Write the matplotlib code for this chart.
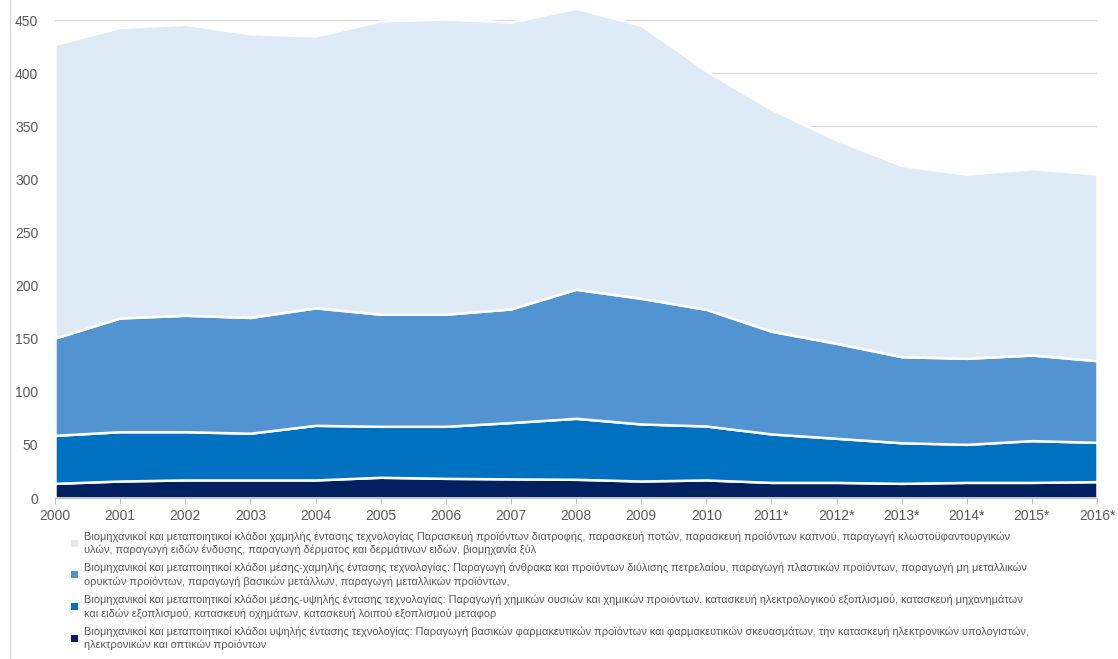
import matplotlib
matplotlib.use("Agg")
import matplotlib.pyplot as plt
from matplotlib import font_manager
from matplotlib.lines import Line2D

# pick a narrow-ish sans family that is installed
names = {f.name for f in font_manager.fontManager.ttflist}
family = next(n for n in ["Liberation Sans Narrow", "Liberation Sans", "DejaVu Sans"] if n in names)
plt.rcParams['font.family'] = [family, 'DejaVu Sans']

years = ["2000", "2001", "2002", "2003", "2004", "2005", "2006", "2007", "2008",
         "2009", "2010", "2011*", "2012*", "2013*", "2014*", "2015*", "2016*"]

high_tech = [13.8, 16, 17, 17, 17, 19.5, 18.5, 18, 17.6, 16, 17, 14.7, 14.7, 13.8, 14.7, 14.7, 15.4]
mid_high_tech = [45.2, 46.4, 45.4, 44, 51.4, 48, 49, 53, 57.4, 53.7, 50.8, 45.6, 41.5, 38.2, 35.8, 39.3, 37]
mid_low_tech = [91.6, 107.1, 109.6, 109, 110.6, 105.5, 105.5, 107, 121.5, 118.3, 109.8, 96.7, 89.4, 81, 81, 80.6, 76.9]
low_tech = [276.4, 273.5, 274, 267, 256, 276, 278, 270, 264.5, 257, 224.4, 209, 191.4, 180, 173.5, 175.4, 175.7]

labels = [
    "Βιομηχανικοί και μεταποιητικοί κλάδοι υψηλής έντασης τεχνολογίας: Παραγωγή βασικών φαρμακευτικών προϊόντων και φαρμακευτικών σκευασμάτων, την κατασκευή ηλεκτρονικών υπολογιστών,\nηλεκτρονικών και οπτικών προϊόντων",
    "Βιομηχανικοί και μεταποιητικοί κλάδοι μέσης-υψηλής έντασης τεχνολογίας: Παραγωγή χημικών ουσιών και χημικών προϊόντων, κατασκευή ηλεκτρολογικού εξοπλισμού, κατασκευή μηχανημάτων\nκαι ειδών εξοπλισμού, κατασκευή οχημάτων, κατασκευή λοιπού εξοπλισμού μεταφορ",
    "Βιομηχανικοί και μεταποιητικοί κλάδοι μέσης-χαμηλής έντασης τεχνολογίας: Παραγωγή άνθρακα και προϊόντων διύλισης πετρελαίου, παραγωγή πλαστικών προϊόντων, παραγωγή μη μεταλλικών\nορυκτών προϊόντων, παραγωγή βασικών μετάλλων, παραγωγή μεταλλικών προϊόντων,",
    "Βιομηχανικοί και μεταποιητικοί κλάδοι χαμηλής έντασης τεχνολογίας Παρασκευή προϊόντων διατροφής, παρασκευή ποτών, παρασκευή προϊόντων καπνού, παραγωγή κλωστοϋφαντουργικών\nυλών, παραγωγή ειδών ένδυσης, παραγωγή δέρματος και δερμάτινων ειδών, βιομηχανία ξύλ",
]
colors = ["#002060", "#0070C0", "#5294D2", "#DEEAF6"]

W, H = 1118, 659
fig = plt.figure(figsize=(W / 100, H / 100), dpi=100)
# plot area: 0 at y=498 px, 450 at y=20 px; extends to the top edge
ax = fig.add_axes([55 / W, 1 - 498 / H, (1097 - 55) / W, 498 / H])

x = list(range(len(years)))
polys = ax.stackplot(x, high_tech, mid_high_tech, mid_low_tech, low_tech,
                     colors=colors, edgecolor="white", linewidth=1.8, zorder=2)

ax.set_xlim(0, len(years) - 1)
ax.set_ylim(0, 450 * 498 / 478)
ax.set_yticks(range(0, 451, 50))
ax.set_xticks(x)
ax.set_xticklabels(years)
ax.grid(axis="y", color="#D9D9D9", linewidth=0.9, zorder=0)
ax.set_axisbelow(True)
for s in ["top", "right", "left"]:
    ax.spines[s].set_visible(False)
ax.spines["bottom"].set_color("#BFBFBF")
ax.spines["bottom"].set_zorder(3)
ax.tick_params(axis="y", length=0, pad=12, labelsize=10, labelcolor="#595959")
ax.tick_params(axis="x", length=4, color="#BFBFBF", pad=4, labelsize=10, labelcolor="#595959")

# chart frame line on the left
fig.add_artist(Line2D([10 / W, 10 / W], [0, 1], color="#D9D9D9", linewidth=1))

leg = ax.legend(polys[::-1], labels[::-1], loc="upper left",
                bbox_to_anchor=(71 / W, 1 - 531 / H), bbox_transform=fig.transFigure,
                frameon=False, fontsize=7.9, labelcolor="#595959",
                handlelength=0.6, handleheight=0.6, handletextpad=0.6,
                labelspacing=0.71, borderaxespad=0, borderpad=0)
for h in leg.legend_handles:
    h.set_linewidth(0)
for t in leg.get_texts():
    t.set_linespacing(1.35)

fig.savefig("out.png", dpi=100)
